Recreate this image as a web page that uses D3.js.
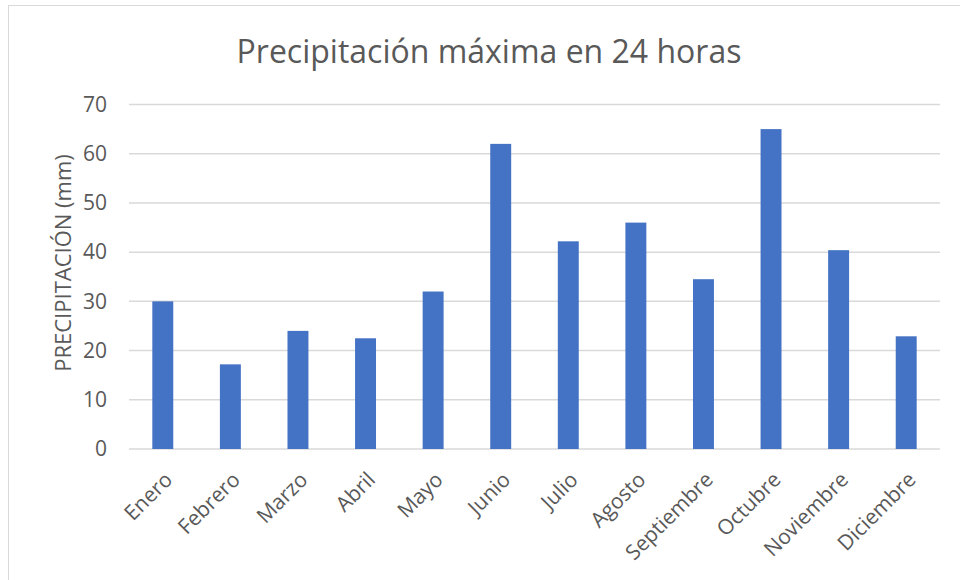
<!DOCTYPE html>
<html>
<head>
<meta charset="utf-8">
<script src="https://cdn.jsdelivr.net/npm/d3@7"></script>
<style>
  html, body { margin: 0; padding: 0; background: #fff; }
  svg { display: block; font-family: "Open Sans", "Noto Sans", sans-serif; }
</style>
</head>
<body>
<div id="chart"></div>
<script>
// Precipitación máxima en 24 horas, monthly bar chart

const months = ['Enero', 'Febrero', 'Marzo', 'Abril', 'Mayo', 'Junio',
  'Julio', 'Agosto', 'Septiembre', 'Octubre', 'Noviembre', 'Diciembre'];
const precip = [30, 17.2, 24, 22.5, 32, 62, 42.2, 46, 34.5, 65, 40.4, 22.9];
const yTicks = [0, 10, 20, 30, 40, 50, 60, 70];

const width = 960, height = 580;
const margin = {top: 104.5, right: 20, bottom: 131, left: 129};

const svg = d3.select('#chart').append('svg')
  .attr('width', width)
  .attr('height', height);

// outer chart border
svg.append('rect')
  .attr('x', 8.5).attr('y', 5.5)
  .attr('width', width).attr('height', height)
  .attr('fill', 'none')
  .attr('stroke', '#d9d9d9')
  .attr('stroke-width', 1);

const x = d3.scaleBand()
  .domain(months)
  .range([margin.left, width - margin.right])
  .padding(0);

const y = d3.scaleLinear()
  .domain([0, 70])
  .range([height - margin.bottom, margin.top]);

// gridlines
svg.append('g')
  .attr('class', 'grid')
  .selectAll('line')
  .data(yTicks)
  .join('line')
  .attr('x1', margin.left)
  .attr('x2', width - margin.right)
  .attr('y1', d => y(d))
  .attr('y2', d => y(d))
  .attr('stroke', '#d9d9d9')
  .attr('stroke-width', 1.5);

// y tick labels
const yAxis = d3.axisLeft(y).tickValues(yTicks).tickSize(0).tickPadding(22);
const gy = svg.append('g')
  .attr('transform', `translate(${margin.left},0)`)
  .call(yAxis);
gy.select('.domain').remove();
gy.selectAll('text')
  .attr('fill', '#595959')
  .style('font-size', '21px')
  .style('font-family', '"Open Sans", sans-serif');

// bars
const barW = x.bandwidth() * 0.31;
svg.append('g')
  .selectAll('rect')
  .data(months.map((m, i) => ({m, v: precip[i]})))
  .join('rect')
  .attr('x', d => x(d.m) + (x.bandwidth() - barW) / 2)
  .attr('y', d => y(d.v))
  .attr('width', barW)
  .attr('height', d => y(0) - y(d.v))
  .attr('fill', '#4472c4');

// x labels, rotated
svg.append('g')
  .selectAll('text')
  .data(months)
  .join('text')
  .attr('transform', d => `translate(${x(d) + x.bandwidth() / 2 + 11},481) rotate(-45)`)
  .attr('text-anchor', 'end')
  .attr('fill', '#595959')
  .style('font-size', '21px')
  .text(d => d);

// y axis title
svg.append('text')
  .attr('transform', 'translate(71,263) rotate(-90)')
  .attr('text-anchor', 'middle')
  .attr('fill', '#595959')
  .style('font-size', '22px')
  .text('PRECIPITACIÓN (mm)');

// chart title
svg.append('text')
  .attr('x', 489)
  .attr('y', 63)
  .attr('text-anchor', 'middle')
  .attr('fill', '#595959')
  .style('font-size', '32px')
  .text('Precipitación máxima en 24 horas');
</script>
</body>
</html>
